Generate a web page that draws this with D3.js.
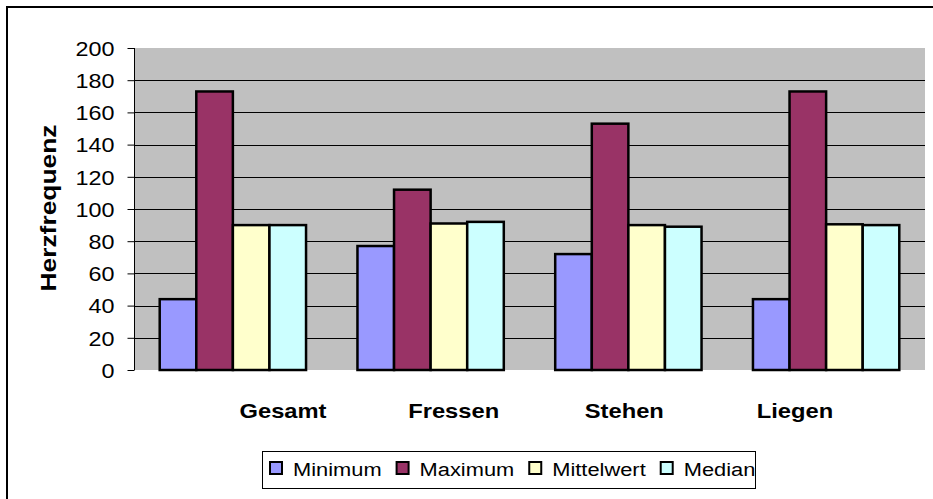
<!DOCTYPE html>
<html><head><meta charset="utf-8">
<script src="https://cdn.jsdelivr.net/npm/d3@7"></script>
<style>body{margin:0;background:#fff}svg{display:block}text{font-family:"Liberation Sans",Arial,sans-serif;fill:#000}</style>
</head><body>
<svg id="c" width="933" height="499"></svg>
<script>
const categories = ["Gesamt", "Fressen", "Stehen", "Liegen"];
const seriesNames = ["Minimum", "Maximum", "Mittelwert", "Median"];
const minimum = [44, 77, 72, 44];
const maximum = [173, 112, 153, 173];
const mittelwert = [90, 91, 90, 90.5];
const median = [90, 92, 89, 90];
const yTicks = [0, 20, 40, 60, 80, 100, 120, 140, 160, 180, 200];
const colors = ["#9999ff", "#993366", "#ffffcc", "#ccffff"];
const series = [minimum, maximum, mittelwert, median];

const svg = d3.select("#c");
const L = 134, R = 925, T = 48, B = 370;
const SX = 1.14;

svg.append("rect").attr("x", 7).attr("y", 7).attr("width", 940).attr("height", 500)
  .attr("fill", "#fff").attr("stroke", "#000").attr("stroke-width", 2);

const y = d3.scaleLinear().domain([0, 200]).range([B, T]);
const x0 = d3.scaleBand().domain(categories).range([L, R]).padding(0);
const step = x0.bandwidth();
const x1 = d3.scaleBand().domain(seriesNames).range([step * 0.13, step * 0.87]).padding(0);

svg.append("rect").attr("x", L).attr("y", T).attr("width", R - L).attr("height", B - T).attr("fill", "#c0c0c0");

// gridlines
svg.append("g").selectAll("line").data(yTicks.filter(d => d > 0 && d < 200)).join("line")
  .attr("x1", L).attr("x2", R).attr("y1", d => Math.round(y(d)) + 0.5).attr("y2", d => Math.round(y(d)) + 0.5)
  .attr("stroke", "#000").attr("stroke-width", 1);

// y axis
const yAxis = d3.axisLeft(y).tickValues(yTicks).tickSize(7).tickPadding(13).tickFormat(d3.format("d"));
const ga = svg.append("g").attr("transform", `translate(${L + 0.5},0)`).call(yAxis);
ga.select(".domain").attr("stroke", "#000").attr("d", `M0,${T}V${B}`);
ga.selectAll(".tick line").attr("stroke", "#000");
ga.selectAll(".tick text").attr("font-size", 20.5).attr("font-family", '"Liberation Sans",Arial,sans-serif')
  .attr("fill", "#000").attr("dy", "0.36em")
  .attr("transform", function () { const xx = +d3.select(this).attr("x"); return `translate(${xx},0) scale(${SX},1) translate(${-xx},0)`; });

// bars
const groups = svg.append("g").selectAll("g").data(categories).join("g")
  .attr("transform", d => `translate(${x0(d)},0)`);
groups.selectAll("rect").data((c, ci) => series.map((s, si) => ({ name: seriesNames[si], v: s[ci], i: si }))).join("rect")
  .attr("x", d => x1(d.name)).attr("width", x1.bandwidth())
  .attr("y", d => y(d.v)).attr("height", d => B - y(d.v))
  .attr("fill", d => colors[d.i]).attr("stroke", "#000").attr("stroke-width", 2.5);

// category labels (offset as in the original)
const xl = d3.scalePoint().domain(categories).range([283, 795]);
svg.append("g").selectAll("text").data(categories).join("text")
  .attr("transform", d => `translate(${xl(d)},418) scale(1.13,1)`)
  .attr("text-anchor", "middle").attr("font-size", 21).attr("font-weight", "bold").text(d => d);

// y title
svg.append("text").attr("transform", `translate(56,${(T + B) / 2 - 1}) rotate(-90) scale(1.2,1)`)
  .attr("text-anchor", "middle").attr("font-size", 22).attr("font-weight", "bold").text("Herzfrequenz");

// legend
const lg = svg.append("g");
lg.append("rect").attr("x", 262.5).attr("y", 451.5).attr("width", 493).attr("height", 37)
  .attr("fill", "#fff").attr("stroke", "#000").attr("stroke-width", 1);
let lx = 270;
const LS = 1.15;
seriesNames.forEach((n, i) => {
  lg.append("rect").attr("x", lx).attr("y", 462).attr("width", 12).attr("height", 12)
    .attr("fill", colors[i]).attr("stroke", "#000").attr("stroke-width", 2);
  const t = lg.append("text").attr("transform", `translate(${lx + 23},476) scale(${LS},1)`)
    .attr("font-size", 19).text(n);
  const w = t.node().getComputedTextLength() * LS;
  lx = lx + 23 + w + 15;
});
</script>
</body></html>
